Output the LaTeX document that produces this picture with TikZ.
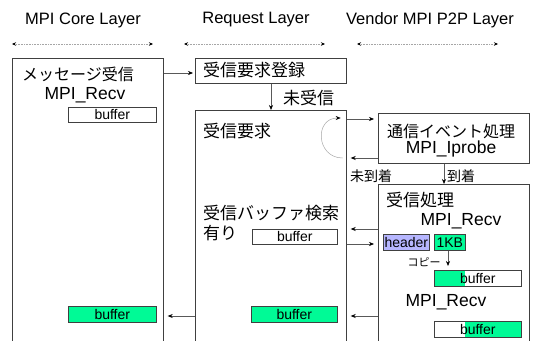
\documentclass[tikz,border=0pt]{standalone}
\usepackage{fontspec}
\setmainfont{Liberation Sans}
\newfontfamily\jp{Noto Sans CJK JP}
\usetikzlibrary{arrows.meta}
\definecolor{bufgreen}{RGB}{0,250,150}
\definecolor{hdrblue}{RGB}{182,182,255}
\tikzset{
  frame/.style={draw=black!75, line width=0.7pt, inner sep=0pt, anchor=north west, minimum width=151pt},
  link/.style={draw=black!65, line width=0.6pt, -{Stealth[length=5pt,width=4pt,color=black]}},
  span/.style={draw=black!35, densely dotted, line width=0.6pt,
    {Stealth[length=4pt,width=3.5pt,color=black]}-{Stealth[length=4pt,width=3.5pt,color=black]}},
  hdr/.style={font=\fontsize{16.5}{20}\selectfont, inner sep=0pt},
  jtxt/.style={font=\jp\fontsize{17}{20}\selectfont, inner sep=0pt, anchor=west},
  ltxt/.style={font=\fontsize{17.5}{20}\selectfont, inner sep=0pt},
  bufbox/.style={draw=black!75, line width=0.6pt, minimum height=15pt, inner sep=0pt,
    anchor=north west, font=\fontsize{14}{16}\selectfont},
  partgreen/.style={path picture={\fill[bufgreen] (path picture bounding box.south west)
    rectangle ([xshift=#1]path picture bounding box.north west);}},
  partgreenright/.style={path picture={\fill[bufgreen] ([xshift=#1]path picture bounding box.south west)
    rectangle (path picture bounding box.north east);}},
}
\begin{document}
\begin{tikzpicture}[x=1pt,y=-1pt]
\useasboundingbox (0,0) rectangle (554,340);
\clip (0,0) rectangle (554,340);

% layer headings and their extent markers
\node[hdr] (hcore) at (83,20) {MPI Core Layer};
\node[hdr] (hreq) at (256,20) {Request Layer};
\node[hdr] (hven) at (430,20) {Vendor MPI P2P Layer};
\coordinate (s1a) at (12,44);  \coordinate (s1b) at (153,44);
\coordinate (s2a) at (184,44); \coordinate (s2b) at (325,44);
\coordinate (s3a) at (357,44); \coordinate (s3b) at (498,44);
\draw[span] (s1a) -- (s1b);
\draw[span] (s2a) -- (s2b);
\draw[span] (s3a) -- (s3b);

% frames
\node[frame, minimum height=300pt] (core) at (12,58) {};
\node[frame, minimum height=25pt]  (reg)  at (195,58) {};
\node[frame, minimum height=260pt] (req)  at (195,110) {};
\node[frame, minimum height=50pt]  (evt)  at (378,113) {};
\node[frame, minimum height=200pt] (rcv)  at (378,184) {};

% MPI core layer
\node[jtxt, font=\jp\fontsize{16}{20}\selectfont] (t1) at (22,74) {メッセージ受信};
\node[ltxt] (t2) at (85,95) {MPI\_Recv};
\node[bufbox, minimum width=88pt] (cb1) at (68,107) {buffer};
\node[bufbox, minimum width=88pt, minimum height=16pt, fill=bufgreen] (cb2) at (68,306) {buffer};

% request layer
\node[jtxt] (t3) at (203,70) {受信要求登録};
\node[jtxt] (t4) at (283,98) {未受信};
\node[jtxt] (t5) at (203,131) {受信要求};
\node[jtxt] (t6) at (203,213) {受信バッファ検索};
\node[jtxt] (t7) at (203,233) {有り};
\node[bufbox, minimum width=85pt] (rb1) at (252,229) {buffer};
\node[bufbox, minimum width=86pt, minimum height=16pt, fill=bufgreen] (rb2) at (251,306) {buffer};

% vendor layer
\node[jtxt, font=\jp\fontsize{16}{20}\selectfont, anchor=center] (t8) at (451,131) {通信イベント処理};
\node[ltxt] (t9) at (451,149) {MPI\_Iprobe};
\node[jtxt, font=\jp\fontsize{14}{16}\selectfont] (t10) at (350,176) {未到着};
\node[jtxt, font=\jp\fontsize{14}{16}\selectfont] (t11) at (447,176) {到着};
\node[jtxt] (t12) at (386,200) {受信処理};
\node[ltxt] (t13) at (461,221) {MPI\_Recv};
\node[bufbox, minimum width=46pt, minimum height=16pt, fill=hdrblue] (hd) at (383,234) {header};
\node[bufbox, minimum width=31pt, minimum height=16pt, fill=bufgreen] (kb) at (434,234) {1KB};
\node[jtxt, font=\jp\fontsize{11}{13}\selectfont, anchor=center] (t14) at (424,262) {コピー};
\node[bufbox, minimum width=87pt, minimum height=16pt, partgreen=31pt] (vb1) at (434,270) {buffer};
\node[ltxt] (t15) at (446,302) {MPI\_Recv};
\node[bufbox, minimum width=87pt, minimum height=16pt, partgreenright=31pt] (vb2) at (434,321) {buffer};

% connectors
\draw[link, shorten >=2pt] (core.east |- 0,73) -- (reg.west |- 0,73);
\draw[link] (reg.south -| 271,0) -- (req.north -| 271,0);
\draw[link, shorten >=4pt] (req.east |- 0,119) -- (evt.west |- 0,119);
\draw[link, shorten >=4pt] (evt.west |- 0,158) -- (req.east |- 0,158);
\draw[link] (evt.south -| 444,0) -- (rcv.north -| 444,0);
\draw[link, shorten >=4pt] (rcv.west |- 0,229) -- (req.east |- 0,229);
\draw[link, shorten >=4pt] (req.east |- 0,244) -- (rcv.west |- 0,244);
\draw[link, shorten >=4pt] (rcv.west |- 0,316) -- (req.east |- 0,316);
\draw[link, shorten >=4pt] (req.west |- 0,316) -- (core.east |- 0,316);
\draw[link, shorten >=4pt] (kb.south -| 448,0) -- (vb1.north -| 448,0);
\draw[link, draw=black!35, line width=0.5pt]
  ([xshift=-4pt]req.east |- 0,158) to[out=180, in=180, looseness=1.7] ([xshift=-6pt]req.east |- 0,118);
\end{tikzpicture}
\end{document}
